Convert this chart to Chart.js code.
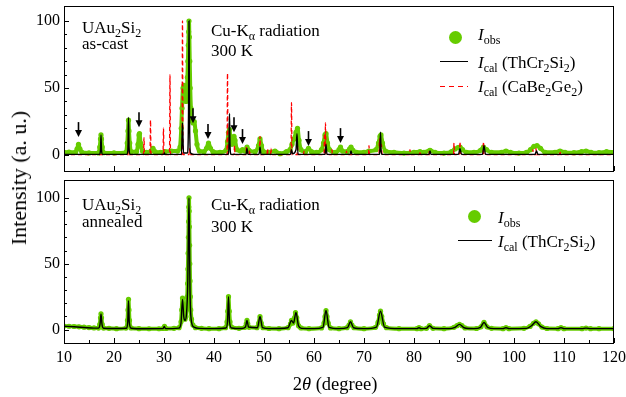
<!DOCTYPE html>
<html>
<head>
<meta charset="utf-8">
<title>UAu2Si2 XRD</title>
<script src="https://cdn.jsdelivr.net/npm/chart.js@4.4.1/dist/chart.umd.min.js"></script>
<style>
  html, body { margin: 0; padding: 0; background: #fff; }
  #fig { position: relative; width: 626px; height: 397px; overflow: hidden;
         font-family: 'Liberation Serif', 'Times New Roman', serif; color: #000; }
  #fig canvas { position: absolute; left: 0; }
  .t { position: absolute; white-space: nowrap; font-size: 17px; line-height: 17px; }
  .t sub { font-size: 12px; line-height: 0; vertical-align: -4px; }
  .dot { position: absolute; width: 13px; height: 13px; border-radius: 50%; background: #66cc00; }
  .ln { position: absolute; height: 1.4px; background: #000; }
  .ln.red { background: repeating-linear-gradient(90deg, #ff0000 0 5px, transparent 5px 9px); }
</style>
</head>
<body>
<div id="fig">
  <canvas id="topPanel" width="626" height="176" style="top:0"></canvas>
  <canvas id="bottomPanel" width="626" height="221" style="top:176px"></canvas>

  <!-- top panel notes -->
  <div class="t" style="left:82px; top:19px">UAu<sub>2</sub>Si<sub>2</sub></div>
  <div class="t" style="left:82px; top:35px">as-cast</div>
  <div class="t" style="left:211px; top:22px">Cu-K<sub>α</sub> radiation</div>
  <div class="t" style="left:211px; top:42px">300 K</div>

  <div class="dot" style="left:449px; top:31px"></div>
  <div class="t" style="left:478px; top:26px"><i>I</i><sub>obs</sub></div>
  <div class="ln" style="left:440px; width:28px; top:61px"></div>
  <div class="t" style="left:478px; top:54px"><i>I</i><sub>cal</sub> (ThCr<sub>2</sub>Si<sub>2</sub>)</div>
  <div class="ln red" style="left:440px; width:28px; top:86px"></div>
  <div class="t" style="left:478px; top:78px"><i>I</i><sub>cal</sub> (CaBe<sub>2</sub>Ge<sub>2</sub>)</div>

  <!-- bottom panel notes -->
  <div class="t" style="left:82px; top:196px">UAu<sub>2</sub>Si<sub>2</sub></div>
  <div class="t" style="left:82px; top:213px">annealed</div>
  <div class="t" style="left:211px; top:196px">Cu-K<sub>α</sub> radiation</div>
  <div class="t" style="left:211px; top:218px">300 K</div>

  <div class="dot" style="left:468px; top:210px"></div>
  <div class="t" style="left:498px; top:209px"><i>I</i><sub>obs</sub></div>
  <div class="ln" style="left:458px; width:34px; top:240px"></div>
  <div class="t" style="left:498px; top:233px"><i>I</i><sub>cal</sub> (ThCr<sub>2</sub>Si<sub>2</sub>)</div>

  <!-- axis titles -->
  <div class="t" style="font-size:22px; line-height:22px; left:19px; top:178px; transform:translate(-50%,-50%) rotate(-90deg)">Intensity (a. u.)</div>
  <div class="t" style="font-size:18.5px; line-height:18.5px; left:335px; top:375px; transform:translateX(-50%)">2<i>θ</i> (degree)</div>
</div>

<script>
// XRD patterns of UAu2Si2, as-cast (top) and annealed (bottom).
// x = 2θ in degrees, y = intensity in a.u. (strongest peak = 100)

/* ---------------------------------- data ---------------------------------- */
const xTicks = [10, 15, 20, 25, 30, 35, 40, 45, 50, 55, 60, 65, 70, 75, 80, 85, 90, 95, 100, 105, 110, 115, 120];
const yTicks = [0, 10, 20, 30, 40, 50, 60, 70, 80, 90, 100];
const yTickLabels = { 0: '0', 50: '50', 100: '100' };

// as-cast, observed
const obsAsCast = [
  [10, 2], [11, 2.2], [12.3, 2], [12.6, 4.5], [12.9, 8], [13.2, 4.5], [13.6, 2],
  [15, 1.6], [16.9, 1.6], [17.15, 6], [17.3, 12], [17.4, 15], [17.5, 12], [17.65, 6], [17.9, 1.8],
  [20, 1.6], [22.4, 2], [22.65, 9], [22.8, 18], [22.9, 26], [23.0, 18], [23.15, 9], [23.4, 2.5],
  [24.5, 2.5], [24.8, 8], [25.0, 15], [25.1, 16], [25.3, 9], [25.7, 3],
  [26.5, 2], [27.4, 3], [27.8, 5], [28.2, 2.5], [29.3, 2], [30.2, 2.5], [31.5, 3],
  [32.7, 3], [33.2, 6], [33.45, 20], [33.6, 35], [33.8, 50], [34.0, 52], [34.2, 44], [34.4, 40],
  [34.55, 45], [34.68, 58], [34.78, 70], [34.86, 82], [34.93, 92], [35.0, 100], [35.07, 88],
  [35.15, 70], [35.25, 50], [35.38, 35], [35.55, 26], [35.8, 24], [36.05, 25], [36.3, 18], [36.6, 8], [37.1, 3],
  [38.0, 2.5], [38.5, 5], [38.9, 9], [39.3, 5], [39.8, 2.5],
  [41.2, 2], [42.4, 3.5], [42.7, 10], [42.9, 17], [43.1, 19], [43.3, 11], [43.6, 8], [43.85, 12], [44.0, 14], [44.2, 11], [44.6, 4],
  [45.3, 3], [45.7, 4], [46.2, 3], [46.6, 6], [47.0, 3.5],
  [48.2, 2.5], [48.9, 7], [49.2, 12], [49.5, 7], [49.9, 2.5],
  [51, 2], [52.2, 3], [53.2, 1], [54.5, 2.5], [55.2, 4], [55.6, 8], [56.0, 12], [56.4, 17], [56.7, 20], [57.0, 11], [57.4, 4],
  [58.3, 2.5], [58.9, 5], [59.5, 2.5],
  [60.5, 2], [61.5, 4], [61.9, 9], [62.2, 15], [62.4, 16], [62.7, 9], [63.1, 4],
  [64.3, 2], [65.0, 4], [65.3, 6], [65.7, 3],
  [66.6, 2.5], [67.1, 4.5], [67.4, 6], [67.8, 3.5], [68.5, 2],
  [70, 2], [71, 3], [72.4, 4], [72.9, 9], [73.2, 14], [73.4, 15], [73.7, 9], [74.3, 3],
  [76, 2], [78, 1.5], [80, 2], [81.2, 2.5], [82, 2], [83.2, 3.5], [84.2, 2], [86, 1.5],
  [87.5, 2.5], [88.2, 4.5], [88.8, 5.5], [89.2, 6], [89.7, 4], [90.5, 2],
  [92, 2], [93.3, 3.5], [93.9, 6], [94.5, 4], [95.5, 2],
  [97.5, 2], [98.4, 3], [99.3, 2], [101, 1.5],
  [102.5, 2], [103.3, 4], [104.0, 6.5], [104.6, 7], [105.3, 5], [106.2, 2],
  [108.2, 2], [109.2, 3], [110.2, 2], [112, 1.8], [113.5, 2.5], [114.4, 3], [115.4, 2], [117, 1.8], [118.5, 2.5], [120, 2]
];

// as-cast, calculated for the ThCr2Si2 structure
const calcThAsCast = [
  [10, 0.5], [17.1, 0.5], [17.3, 4], [17.4, 15], [17.5, 4], [17.7, 0.5],
  [22.6, 0.5], [22.8, 6], [22.9, 28], [23.0, 6], [23.2, 0.5],
  [30.0, 0.5], [30.1, 1.5], [30.2, 0.5],
  [33.5, 0.5], [33.7, 24], [33.9, 1.5],
  [34.7, 1.5], [34.9, 30], [35.0, 100], [35.1, 30], [35.3, 1.5], [36, 0.5],
  [42.9, 0.5], [43.0, 8], [43.1, 31], [43.2, 8], [43.4, 0.5],
  [46.4, 0.5], [46.6, 5], [46.8, 0.5],
  [49.0, 0.5], [49.2, 6], [49.4, 0.5],
  [55.3, 0.5], [55.5, 4], [55.7, 1], [56.4, 4], [56.6, 16], [56.8, 0.5],
  [62.2, 0.5], [62.4, 8], [62.6, 0.5],
  [67.2, 0.5], [67.4, 3], [67.6, 0.5],
  [73.1, 0.5], [73.2, 5], [73.3, 17], [73.4, 5], [73.6, 0.5],
  [83.0, 0.5], [83.2, 3], [83.4, 0.5],
  [88.9, 0.5], [89.2, 5], [89.5, 0.5],
  [93.7, 0.5], [94.0, 7], [94.3, 0.5],
  [104.2, 0.5], [104.5, 3], [104.8, 0.5], [120, 0.5]
];

// as-cast, calculated for the CaBe2Ge2 structure
const calcCaAsCast = [
  [10, 0.3], [22.8, 0.3], [22.9, 13], [23.0, 0.3],
  [25.9, 0.3], [26.0, 13], [26.1, 0.3],
  [27.2, 0.3], [27.3, 26], [27.4, 0.3],
  [29.8, 0.3], [29.9, 20], [30.0, 0.3],
  [31.1, 0.3], [31.2, 60], [31.3, 0.3],
  [33.6, 0.3], [33.7, 100], [33.8, 0.3],
  [35.0, 0.3], [35.1, 5], [35.2, 0.3],
  [42.6, 0.3], [42.7, 61], [42.8, 0.3],
  [44.0, 0.3], [44.1, 7], [44.2, 0.3],
  [46.4, 0.3], [46.5, 6], [46.6, 0.3],
  [47.0, 0.3], [47.1, 4], [47.2, 0.3],
  [49.1, 0.3], [49.2, 14], [49.3, 0.3],
  [50.6, 0.3], [50.7, 5], [50.8, 0.3],
  [51.3, 0.3], [51.4, 5], [51.5, 0.3],
  [55.4, 0.3], [55.5, 39], [55.6, 0.3],
  [56.6, 0.3], [56.7, 8], [56.8, 0.3],
  [57.9, 0.3], [58.0, 3], [58.1, 0.3],
  [62.0, 0.3], [62.1, 16], [62.2, 1], [62.3, 24], [62.4, 0.3],
  [63.5, 0.3], [63.6, 4], [63.7, 0.3],
  [66.4, 0.3], [66.5, 3], [66.6, 0.3],
  [70.9, 0.3], [71.0, 7], [71.1, 0.3],
  [73.0, 0.3], [73.1, 12], [73.2, 2], [73.5, 8], [73.6, 0.3],
  [79.1, 0.3], [79.2, 4], [79.3, 0.3],
  [81.1, 0.3], [81.2, 3], [81.3, 0.3],
  [82.9, 0.3], [83.0, 3], [83.1, 0.3],
  [87.9, 0.3], [88.0, 9], [88.1, 0.3],
  [89.1, 0.3], [89.2, 10], [89.3, 0.3],
  [93.8, 0.3], [93.9, 10], [94.0, 0.3],
  [103.7, 0.3], [103.8, 4], [103.9, 0.3],
  [104.3, 0.3], [104.4, 5], [104.5, 0.3],
  [109.1, 0.3], [109.2, 3], [109.3, 0.3], [120, 0.3]
];

// arrows over the unindexed peaks of the as-cast pattern (2θ, arrow tip intensity)
const arrowAt = [12.9, 25.0, 35.8, 38.8, 44.0, 45.7, 58.9, 65.3];
const arrowTip = [13.4, 20.8, 23.8, 11.9, 17.1, 8.2, 6.7, 8.9];

// annealed, observed
const obsAnnealed = [
  [10, 2.8], [11, 2.6], [12, 2.4], [13, 2.2], [14, 1.9], [15, 1.6], [16, 1.3], [16.9, 1.2],
  [17.15, 4], [17.3, 9], [17.4, 12], [17.5, 9], [17.65, 4], [17.9, 1.2],
  [19, 1], [20.5, 0.8], [22.4, 1.2], [22.7, 7], [22.8, 15], [22.9, 23], [23.0, 15], [23.1, 7], [23.4, 1.3],
  [25, 0.8], [27, 0.7], [29, 0.7], [29.8, 0.9], [30.1, 2.5], [30.4, 0.9],
  [32, 1], [33.0, 1.5], [33.4, 6], [33.55, 15], [33.7, 24], [33.85, 18], [34.0, 10], [34.2, 8], [34.4, 10],
  [34.55, 16], [34.65, 25], [34.72, 35], [34.78, 46], [34.83, 58], [34.88, 70], [34.92, 82], [34.96, 93],
  [35.0, 100], [35.04, 90], [35.08, 78], [35.12, 64], [35.16, 50], [35.21, 37], [35.27, 25], [35.35, 15],
  [35.5, 8], [35.8, 3.5], [36.3, 1.5], [37.5, 1],
  [39, 0.8], [41, 0.8], [42.3, 1.5], [42.6, 6], [42.75, 14], [42.9, 25], [43.05, 14], [43.2, 6], [43.5, 2],
  [45, 1], [46.2, 1.8], [46.45, 4.5], [46.6, 7], [46.75, 4.5], [47.0, 1.8],
  [48.6, 1.5], [48.95, 5], [49.2, 10], [49.45, 5], [49.8, 1.5],
  [51, 0.9], [53, 0.8], [54.8, 1.5], [55.3, 4.5], [55.5, 7], [55.8, 5], [56.1, 9], [56.3, 13], [56.55, 9], [56.9, 3], [57.4, 1.3],
  [59, 0.8], [61.5, 1.3], [62.0, 5], [62.2, 10], [62.4, 14.5], [62.6, 10], [62.85, 5], [63.3, 1.3],
  [65, 0.8], [66.6, 1.5], [67.0, 3.5], [67.3, 6], [67.6, 3.5], [68.0, 1.5],
  [70, 0.8], [72.3, 1.8], [72.8, 5.5], [73.1, 11], [73.3, 14], [73.55, 10], [73.9, 4.5], [74.5, 1.5],
  [77, 0.8], [80.6, 0.8], [81.0, 1.5], [81.4, 0.8], [82.5, 1], [83.1, 3], [83.8, 1],
  [86, 0.8], [88.0, 1.8], [88.6, 3], [89.1, 4], [89.6, 3], [90.2, 1.3],
  [92.5, 0.9], [93.4, 2.2], [94.0, 5.5], [94.6, 2.2], [95.5, 1],
  [97.8, 0.8], [98.4, 1.5], [99.0, 0.8],
  [102, 1], [103.2, 2.5], [103.9, 4.8], [104.4, 6], [104.9, 4.5], [105.6, 2], [106.6, 0.9],
  [108.8, 0.8], [109.4, 1.5], [110, 0.8],
  [113.6, 0.8], [114.4, 1.2], [115.3, 0.8], [117, 0.8], [120, 0.8]
];

// annealed, calculated for the ThCr2Si2 structure
const calcThAnnealed = [
  [10, 2.6], [12, 2.2], [14, 1.7], [16, 1.2], [16.9, 1.2], [17.2, 4], [17.4, 12], [17.6, 4], [17.9, 1.1],
  [20, 0.9], [22.5, 1.1], [22.75, 6], [22.9, 22], [23.05, 6], [23.4, 1.1],
  [26, 0.7], [29.8, 0.8], [30.05, 2.5], [30.3, 0.8],
  [33.0, 1.2], [33.4, 5], [33.7, 23], [33.95, 10], [34.2, 7], [34.5, 12], [34.75, 35], [35.0, 100], [35.2, 30], [35.5, 6], [36.0, 2], [37, 1],
  [40, 0.8], [42.4, 1.3], [42.7, 6], [42.9, 25], [43.1, 6], [43.5, 1.3],
  [45.5, 0.9], [46.3, 2], [46.6, 7], [46.9, 2],
  [48.7, 1.5], [49.2, 10], [49.7, 1.5],
  [51, 0.8], [54.8, 1.5], [55.5, 7], [55.9, 5], [56.4, 13], [56.9, 3], [57.5, 1],
  [60, 0.8], [61.8, 1.8], [62.4, 14.5], [63.0, 1.8],
  [65, 0.8], [66.7, 1.5], [67.3, 6], [67.9, 1.5],
  [70, 0.8], [72.5, 2], [73.3, 14], [74.1, 2],
  [77, 0.8], [80.6, 0.8], [81.0, 1.5], [81.4, 0.8], [82.5, 1], [83.1, 3], [83.8, 1],
  [87, 0.8], [88.2, 1.8], [89.1, 4], [90.0, 1.5], [92, 0.8],
  [93.3, 1.8], [94.0, 5.5], [94.8, 1.5], [96, 0.8],
  [97.8, 0.8], [98.4, 1.5], [99.0, 0.8],
  [102.5, 1], [103.5, 3], [104.4, 6], [105.3, 2.5], [106.6, 0.8],
  [108.8, 0.8], [109.4, 1.5], [110, 0.8],
  [113.6, 0.8], [114.4, 1.2], [115.3, 0.8], [120, 0.8]
];

/* --------------------------------- styling -------------------------------- */
const GREEN = '#66cc00';
const RED = '#ff0000';
const FONT = { family: "'Liberation Serif', 'Times New Roman', serif", size: 16 };

const toXY = arr => arr.map(([x, y]) => ({ x, y }));

// no label overhang padding: the plot box is pinned by layout padding + axis sizes
function pinAxis(s, size) {
  if (s.isHorizontal()) s.height = size; else s.width = size;
  s.paddingTop = 0; s.paddingBottom = 0; s.paddingLeft = 0; s.paddingRight = 0;
}

// closed box + inward ticks (long on labelled values)
const framePlugin = {
  id: 'frame',
  afterDraw(chart) {
    const { ctx, chartArea: a, scales: { x, y } } = chart;
    ctx.save();
    ctx.strokeStyle = '#000';
    ctx.lineWidth = 1;
    ctx.strokeRect(Math.round(a.left) + 0.5, Math.round(a.top) + 0.5,
                   Math.round(a.right - a.left) - 1, Math.round(a.bottom - a.top));
    ctx.beginPath();
    x.ticks.forEach(t => {
      const px = Math.round(x.getPixelForValue(t.value)) + 0.5;
      const len = t.value % 10 === 0 ? 5 : 3;
      ctx.moveTo(px, a.bottom);
      ctx.lineTo(px, a.bottom - len);
    });
    y.ticks.forEach(t => {
      const py = Math.round(y.getPixelForValue(t.value)) + 0.5;
      const len = t.value % 50 === 0 ? 5 : 3;
      ctx.moveTo(a.left, py);
      ctx.lineTo(a.left + len, py);
    });
    ctx.stroke();
    ctx.restore();
  }
};

// down arrows marking impurity peaks
const arrowPlugin = {
  id: 'arrows',
  afterDatasetsDraw(chart) {
    const { ctx, scales: { x, y } } = chart;
    ctx.save();
    ctx.strokeStyle = '#000';
    ctx.fillStyle = '#000';
    ctx.lineWidth = 1.6;
    arrowAt.forEach((deg, i) => {
      const px = x.getPixelForValue(deg);
      const tip = y.getPixelForValue(arrowTip[i]);
      ctx.beginPath();
      ctx.moveTo(px, tip - 15);
      ctx.lineTo(px, tip - 5);
      ctx.stroke();
      ctx.beginPath();
      ctx.moveTo(px - 3.5, tip - 7);
      ctx.lineTo(px + 3.5, tip - 7);
      ctx.lineTo(px, tip);
      ctx.closePath();
      ctx.fill();
    });
    ctx.restore();
  }
};

function panelOptions({ yMin, yMax, padTop, xAxisHeight, xLabels }) {
  return {
    responsive: false,
    animation: false,
    events: [],
    layout: { padding: { left: 0, right: 12, top: padTop, bottom: 0 } },
    plugins: { legend: { display: false }, tooltip: { enabled: false } },
    elements: { line: { cubicInterpolationMode: 'monotone' } },
    scales: {
      x: {
        type: 'linear', min: 10, max: 120,
        grid: { display: false, drawTicks: false }, border: { display: false },
        afterBuildTicks: s => { s.ticks = xTicks.map(v => ({ value: v })); },
        afterFit: s => pinAxis(s, xAxisHeight),
        ticks: {
          display: xLabels, autoSkip: false, maxRotation: 0, padding: 5,
          color: '#000', font: FONT,
          callback: v => (v % 10 === 0 ? String(v) : '')
        }
      },
      y: {
        type: 'linear', min: yMin, max: yMax,
        grid: { display: false, drawTicks: false }, border: { display: false },
        afterBuildTicks: s => { s.ticks = yTicks.map(v => ({ value: v })); },
        afterFit: s => pinAxis(s, 64),
        ticks: {
          autoSkip: false, padding: 4, color: '#000', font: FONT,
          callback: v => yTickLabels[v] || ''
        }
      }
    }
  };
}

const obsStyle = { borderColor: GREEN, backgroundColor: GREEN, borderWidth: 4, pointRadius: 2.6, pointBorderWidth: 0, order: 3 };
const thStyle  = { borderColor: '#000', borderWidth: 1.4, pointRadius: 0, order: 1 };
const caStyle  = { borderColor: RED, borderWidth: 1.3, borderDash: [4, 3], pointRadius: 0, order: 2 };

new Chart(document.getElementById('topPanel'), {
  type: 'line',
  data: {
    datasets: [
      { label: 'I_obs', data: toXY(obsAsCast), ...obsStyle },
      { label: 'I_cal (CaBe2Ge2)', data: toXY(calcCaAsCast), ...caStyle },
      { label: 'I_cal (ThCr2Si2)', data: toXY(calcThAsCast), ...thStyle }
    ]
  },
  options: panelOptions({ yMin: -11.9, yMax: 111.2, padTop: 6, xAxisHeight: 5, xLabels: false }),
  plugins: [framePlugin, arrowPlugin]
});

new Chart(document.getElementById('bottomPanel'), {
  type: 'line',
  data: {
    datasets: [
      { label: 'I_obs', data: toXY(obsAnnealed), ...obsStyle },
      { label: 'I_cal (ThCr2Si2)', data: toXY(calcThAnnealed), ...thStyle }
    ]
  },
  options: panelOptions({ yMin: -10.1, yMax: 113.5, padTop: 2, xAxisHeight: 54, xLabels: true }),
  plugins: [framePlugin]
});
</script>
</body>
</html>
